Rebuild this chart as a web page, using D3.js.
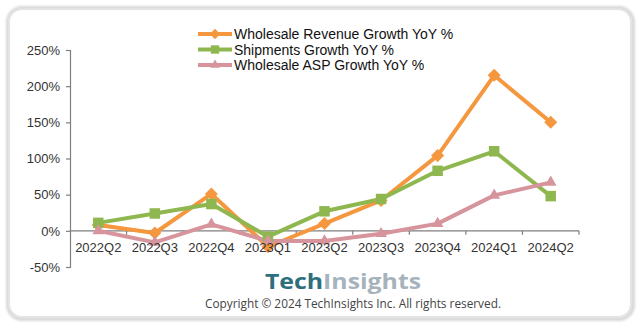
<!DOCTYPE html>
<html>
<head>
<meta charset="utf-8">
<script src="https://cdn.jsdelivr.net/npm/d3@7"></script>
<style>
  html, body { margin: 0; padding: 0; background: #ffffff; }
  svg { display: block; }
</style>
</head>
<body>
<svg id="chart" width="638" height="325"></svg>
<script>
// Quarterly categories
const quarters = ["2022Q2", "2022Q3", "2022Q4", "2023Q1", "2023Q2", "2023Q3", "2023Q4", "2024Q1", "2024Q2"];

// Year-over-year growth, in percent
const revenueGrowth   = [8, -3, 51, -22, 10, 42, 104, 215, 150];
const shipmentsGrowth = [11, 24, 37, -8, 27, 44, 83, 110, 48];
const aspGrowth       = [0, -16, 9, -14, -14, -4, 10, 49, 67];

// Axis ticks
const yTicks = [-50, 0, 50, 100, 150, 200, 250];

const seriesNames = ["Wholesale Revenue Growth YoY %", "Shipments Growth YoY %", "Wholesale ASP Growth YoY %"];
const seriesColors = ["#F5973F", "#8EB84F", "#D7949C"];
// marker shape: square turned 45° for a diamond, plain square, triangle
const seriesMarks = [
  { type: d3.symbolSquare, rotate: 45, size: 85, legendSize: 55 },
  { type: d3.symbolSquare, rotate: 0, size: 110, legendSize: 70 },
  { type: d3.symbolTriangle, rotate: 0, size: 60, legendSize: 40 }
];

const series = [revenueGrowth, shipmentsGrowth, aspGrowth].map((values, i) => ({
  name: seriesNames[i], color: seriesColors[i], mark: seriesMarks[i], values
}));

const svg = d3.select("#chart");

// Rounded card frame
const defs = svg.append("defs");
const shadow = defs.append("filter").attr("id", "soft").attr("x", "-5%").attr("y", "-5%").attr("width", "110%").attr("height", "110%");
shadow.append("feGaussianBlur").attr("stdDeviation", 1.2);
svg.append("rect").attr("x", 8).attr("y", 8).attr("width", 625).attr("height", 311)
  .attr("rx", 14).attr("fill", "none").attr("stroke", "#d9d9d9").attr("stroke-width", 4)
  .attr("filter", "url(#soft)");
svg.append("rect").attr("x", 9).attr("y", 9).attr("width", 622).attr("height", 308)
  .attr("rx", 13).attr("fill", "#ffffff").attr("stroke", "#e4e4e4").attr("stroke-width", 2);

const plot = { left: 70, right: 579, top: 50, bottom: 267 };

const x = d3.scaleBand().domain(quarters).range([plot.left, plot.right]).padding(0);
const y = d3.scaleLinear().domain([-50, 250]).range([plot.bottom, plot.top]);

const font = "Liberation Sans, Arial, sans-serif";

// Y axis
const yAxis = svg.append("g").attr("transform", `translate(${plot.left},0)`)
  .call(d3.axisLeft(y).tickValues(yTicks).tickSize(4).tickPadding(6).tickFormat(d => d + "%"));
yAxis.select(".domain").attr("stroke", "#7f7f7f").attr("stroke-width", 1.2);
yAxis.selectAll(".tick line").attr("stroke", "#7f7f7f").attr("stroke-width", 1.2);
yAxis.selectAll(".tick text").attr("fill", "#333").style("font", `13px ${font}`);

// X axis along the zero line, ticks between categories
const xAxisG = svg.append("g").attr("transform", `translate(0,${y(0)})`);
xAxisG.append("line").attr("x1", plot.left).attr("x2", plot.right)
  .attr("stroke", "#7f7f7f").attr("stroke-width", 1.2);
xAxisG.selectAll("line.tk").data(quarters).join("line")
  .attr("class", "tk")
  .attr("x1", d => x(d) + x.bandwidth())
  .attr("x2", d => x(d) + x.bandwidth())
  .attr("y1", 0).attr("y2", 4)
  .attr("stroke", "#7f7f7f").attr("stroke-width", 1.2);

// Lines and markers
const cx = i => x(quarters[i]) + x.bandwidth() / 2;
const line = d3.line().x((d, i) => cx(i)).y(d => y(d));

series.forEach(s => {
  svg.append("path").datum(s.values)
    .attr("d", line).attr("fill", "none")
    .attr("stroke", s.color).attr("stroke-width", 4).attr("stroke-linejoin", "round");
});
series.forEach(s => {
  svg.append("g").selectAll("path").data(s.values).join("path")
    .attr("transform", (d, i) => `translate(${cx(i)},${y(d)}) rotate(${s.mark.rotate})`)
    .attr("d", d3.symbol().type(s.mark.type).size(s.mark.size))
    .attr("fill", s.color);
});

// Category labels, drawn above the lines
svg.append("g").selectAll("text").data(quarters).join("text")
  .attr("x", d => x(d) + x.bandwidth() / 2)
  .attr("y", y(0) + 21)
  .attr("text-anchor", "middle")
  .attr("fill", "#333")
  .style("font", `13px ${font}`)
  .text(d => d);

// Legend
const legend = svg.append("g").attr("transform", "translate(198,34)");
series.forEach((s, i) => {
  const g = legend.append("g").attr("transform", `translate(0,${i * 15.5})`);
  g.append("line").attr("x1", 0).attr("x2", 34).attr("stroke", s.color).attr("stroke-width", 4);
  g.append("path").attr("transform", `translate(17,0) rotate(${s.mark.rotate})`)
    .attr("d", d3.symbol().type(s.mark.type).size(s.mark.legendSize)).attr("fill", s.color);
  g.append("text").attr("x", 36).attr("y", 5).attr("fill", "#111")
    .style("font", `14px ${font}`).text(s.name);
});

// Brand mark and copyright line
const brand = svg.append("text").attr("x", 343).attr("y", 289).attr("text-anchor", "middle")
  .attr("textLength", 156).attr("lengthAdjust", "spacingAndGlyphs")
  .style("font", `bold 22px "Open Sans", Lato, sans-serif`);
brand.append("tspan").attr("fill", "#2E6F7E").text("Tech");
brand.append("tspan").attr("fill", "#A6B2BC").text("Insights");

svg.append("text").attr("x", 353).attr("y", 308).attr("text-anchor", "middle")
  .attr("fill", "#444")
  .attr("textLength", 296).attr("lengthAdjust", "spacingAndGlyphs")
  .style("font", `12px "Open Sans", sans-serif`)
  .text("Copyright © 2024 TechInsights Inc.  All rights reserved.");
</script>
</body>
</html>
